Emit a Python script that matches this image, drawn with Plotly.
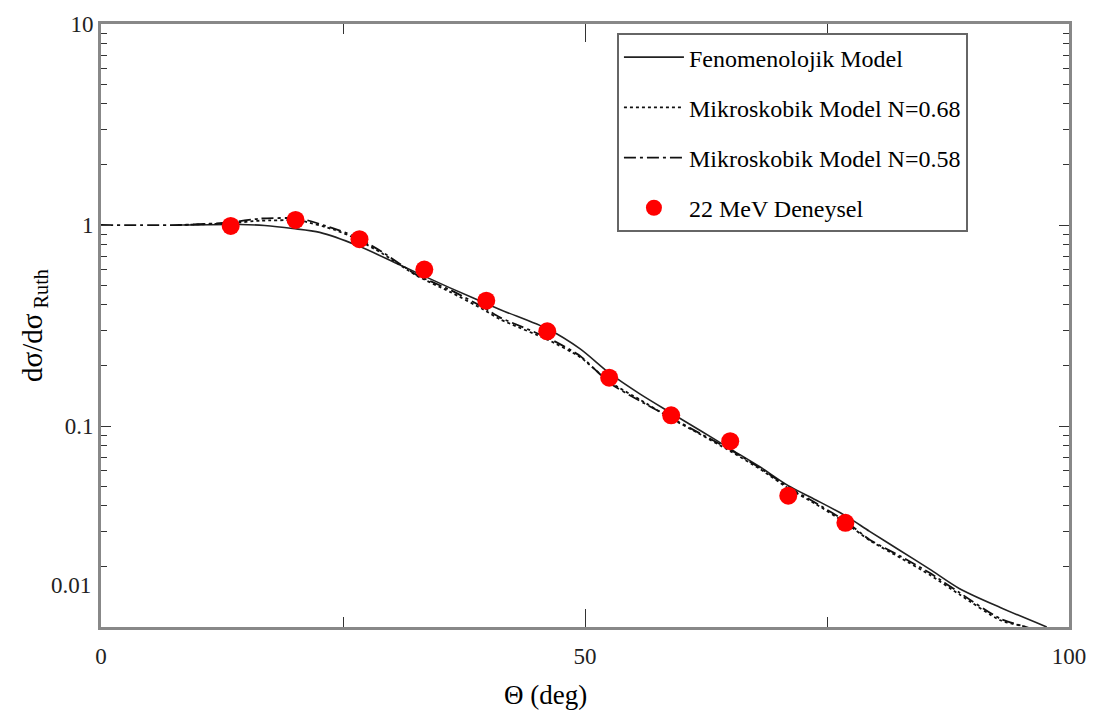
import numpy as np
import plotly.graph_objects as go

# Experimental data (22 MeV)
exp_theta = [13.4, 20.1, 26.7, 33.4, 39.8, 46.1, 52.5, 58.9, 65.0, 71.0, 76.9]
exp_ratio = [0.99, 1.06, 0.85, 0.60, 0.42, 0.296, 0.174, 0.113, 0.084, 0.045, 0.033]

# Phenomenological model (solid)
fen_theta = [7.95, 14.4, 16.9, 19.8, 22.6, 26.5, 30.9, 36.0, 41.2, 46.2, 49.5, 52.6, 55.7,
             58.9, 61.9, 65.0, 68.1, 71.0, 73.8, 76.9, 79.4, 82.5, 85.6, 88.7, 92.9, 97.7]
fen_ratio = [1.0, 1.006, 0.994, 0.961, 0.919, 0.79, 0.632, 0.488, 0.38, 0.303, 0.242, 0.182, 0.144,
             0.116, 0.095, 0.077, 0.0625, 0.0505, 0.043, 0.0358, 0.0299, 0.0241, 0.0194, 0.0155, 0.0125, 0.0100]

# Microscopic model N=0.68 (dotted)
m68_theta = [8.0, 13.3, 16.4, 20.6, 24.0, 26.0, 29.1, 32.6, 36.05, 39.5, 41.2, 46.2, 49.5, 52.6,
             55.7, 58.9, 61.9, 65.0, 68.1, 71.0, 73.8, 76.9, 79.4, 82.5, 85.6, 88.7, 92.9, 95.7]
m68_ratio = [1.0, 1.02, 1.05, 1.05, 0.95, 0.87, 0.72, 0.56, 0.465, 0.38, 0.34, 0.268, 0.22, 0.165,
             0.135, 0.109, 0.091, 0.075, 0.061, 0.049, 0.041, 0.033, 0.027, 0.0222, 0.0182, 0.0145, 0.0108, 0.0100]

# Microscopic model N=0.58 (dash-dot)
m58_theta = [0.0, 8.2, 13.3, 16.4, 20.6, 24.0, 26.0, 29.1, 32.6, 36.05, 39.5, 41.2, 46.2, 49.5, 52.6,
             55.7, 58.9, 61.9, 65.0, 68.1, 71.0, 73.8, 76.9, 79.4, 82.5, 85.6, 88.7, 92.9, 96.5]
m58_ratio = [1.0, 1.0, 1.03, 1.076, 1.076, 0.961, 0.888, 0.732, 0.565, 0.476, 0.389, 0.347, 0.274, 0.223, 0.163,
             0.133, 0.110, 0.0917, 0.0763, 0.0617, 0.0497, 0.0415, 0.0336, 0.0272, 0.0226, 0.0186, 0.0148, 0.0110, 0.0097]

x_ticks = [0, 50, 100]
y_ticks = [0.1, 1, 10]
y_ticktext = ["0.1", "1", "10"]

FONT = "Times New Roman, Liberation Serif, DejaVu Serif, serif"

fig = go.Figure()
fig.add_trace(go.Scatter(x=fen_theta, y=fen_ratio, mode="lines", name="Fenomenolojik Model",
                         line=dict(color="#222", width=1.6, shape="spline", smoothing=0.8),
                         legendgroup="a"))
fig.add_trace(go.Scatter(x=m68_theta, y=m68_ratio, mode="lines", name="Mikroskobik Model N=0.68",
                         line=dict(color="#111", width=1.8, dash="3px,3px", shape="spline", smoothing=0.6),
                         legendgroup="b"))
fig.add_trace(go.Scatter(x=m58_theta, y=m58_ratio, mode="lines", name="Mikroskobik Model N=0.58",
                         line=dict(color="#111", width=1.8, dash="12px,4px,3px,4px", shape="spline", smoothing=0.6),
                         legendgroup="c"))
fig.add_trace(go.Scatter(x=exp_theta, y=exp_ratio, mode="markers", name="22 MeV Deneysel",
                         marker=dict(color="#ff0000", size=18, line=dict(width=0)),
                         legendgroup="d"))

minor_y = [k * 10.0 ** d for d in (-2, -1, 0) for k in range(2, 10)]

fig.update_layout(
    width=1117, height=724,
    margin=dict(l=101, r=48, t=16, b=97),
    paper_bgcolor="white", plot_bgcolor="white",
    font=dict(family=FONT, color="black", size=23),
    showlegend=True,
    legend=dict(
        x=0.533, y=0.985, xanchor="left", yanchor="top",
        bgcolor="white", bordercolor="#666", borderwidth=2,
        font=dict(family=FONT, size=24, color="black"),
        tracegroupgap=16, traceorder="grouped",
        itemwidth=60,
    ),
    xaxis=dict(
        range=[0, 100], tickvals=x_ticks, ticks="inside", ticklen=18, tickwidth=1.3, tickcolor="#333",
        showline=True, linecolor="#888", linewidth=3, mirror="ticks", showgrid=False, zeroline=False,
        minor=dict(tickvals=[25, 75], ticks="inside", ticklen=10, tickwidth=1.3, tickcolor="#333"),
        ticklabelstandoff=6,
        tickfont=dict(family=FONT, size=23, color="#222"),
    ),
    yaxis=dict(
        type="log", range=[-2, 1], tickvals=y_ticks, ticktext=y_ticktext,
        ticks="inside", ticklen=10, tickwidth=1.3, tickcolor="#333",
        showline=True, linecolor="#888", linewidth=3, mirror="ticks", showgrid=False, zeroline=False,
        minor=dict(tickvals=minor_y, ticks="inside", ticklen=6, tickwidth=1.3, tickcolor="#333"),
        tickfont=dict(family=FONT, size=23, color="#222"),
        title=dict(text="dσ/dσ<sub> Ruth</sub>", font=dict(family=FONT, size=29, color="black"), standoff=14),
    ),
    annotations=[
        dict(text="Θ (deg)", xref="paper", yref="paper", x=0.459, y=-0.112,
             xanchor="center", yanchor="middle", showarrow=False,
             font=dict(family=FONT, size=27, color="black")),
        dict(text="0.01", xref="paper", yref="paper", x=0, y=0.068,
             xanchor="right", yanchor="middle", xshift=-8, showarrow=False,
             font=dict(family=FONT, size=23, color="#222")),
    ],
)

fig.write_html("out.html")
